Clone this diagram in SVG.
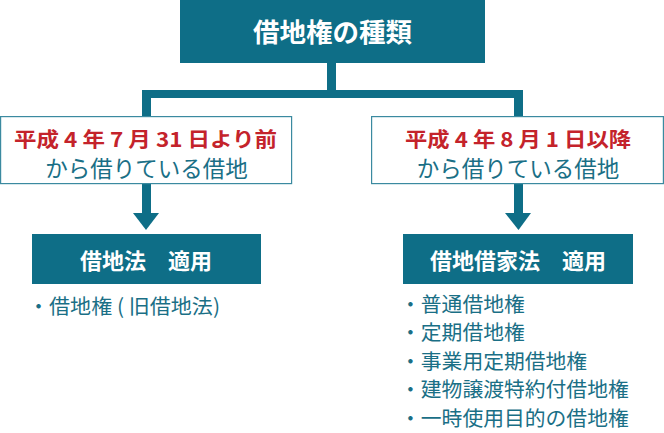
<svg xmlns="http://www.w3.org/2000/svg" width="664" height="433" viewBox="0 0 664 433">
<style>
.teal{fill:#0e6e87}
.wbox{fill:#ffffff;stroke:#3b8aa0;stroke-width:1.2}
.t{font-family:"Noto Sans CJK JP","Noto Sans",sans-serif}
.hw{fill:#ffffff;font-weight:bold}
.red{fill:#c4232b;font-weight:bold;font-size:20px}
.sub{fill:#1a6f86;font-size:22.5px}
.li{fill:#1a6f86;font-size:20.8px}
</style>
<rect width="664" height="433" fill="#ffffff"/>
<g id="connectors" class="teal">
<rect x="327" y="62" width="9" height="30"/>
<rect x="142" y="90" width="381" height="8"/>
<rect x="142" y="90" width="9" height="27"/>
<rect x="514" y="90" width="9" height="27"/>
<rect x="142" y="184" width="9" height="30"/>
<polygon points="133,213 159,213 146,230"/>
<rect x="514" y="184" width="9" height="30"/>
<polygon points="505,213 531,213 518.5,230"/>
</g>
<g id="title">
<rect class="teal" x="180" y="0" width="305" height="63"/>
<text class="t hw" x="332.5" y="42" font-size="26.5" text-anchor="middle">借地権の種類</text>
</g>
<g id="left-period">
<rect class="wbox" x="0.6" y="116.6" width="291" height="67"/>
<text class="t red" x="14" y="147" textLength="263" lengthAdjust="spacingAndGlyphs">平成 4 年 7 月 31 日より前</text>
<text class="t sub" x="146.5" y="177" text-anchor="middle">から借りている借地</text>
</g>
<g id="right-period">
<rect class="wbox" x="371.6" y="116.6" width="291.8" height="67"/>
<text class="t red" x="405" y="147" textLength="226" lengthAdjust="spacingAndGlyphs">平成 4 年 8 月 1 日以降</text>
<text class="t sub" x="518" y="177" text-anchor="middle">から借りている借地</text>
</g>
<g id="left-law">
<rect class="teal" x="32" y="234" width="229" height="50"/>
<text class="t hw" x="146" y="269" font-size="22" text-anchor="middle">借地法　適用</text>
<text class="t li" x="28" y="314" textLength="192" lengthAdjust="spacingAndGlyphs">・借地権 ( 旧借地法)</text>
</g>
<g id="right-law">
<rect class="teal" x="403" y="234" width="230" height="50"/>
<text class="t hw" x="518" y="269" font-size="22" text-anchor="middle">借地借家法　適用</text>
<text class="t li" x="400" y="312">・普通借地権</text>
<text class="t li" x="400" y="340">・定期借地権</text>
<text class="t li" x="400" y="369">・事業用定期借地権</text>
<text class="t li" x="400" y="397">・建物譲渡特約付借地権</text>
<text class="t li" x="400" y="426">・一時使用目的の借地権</text>
</g>
</svg>
